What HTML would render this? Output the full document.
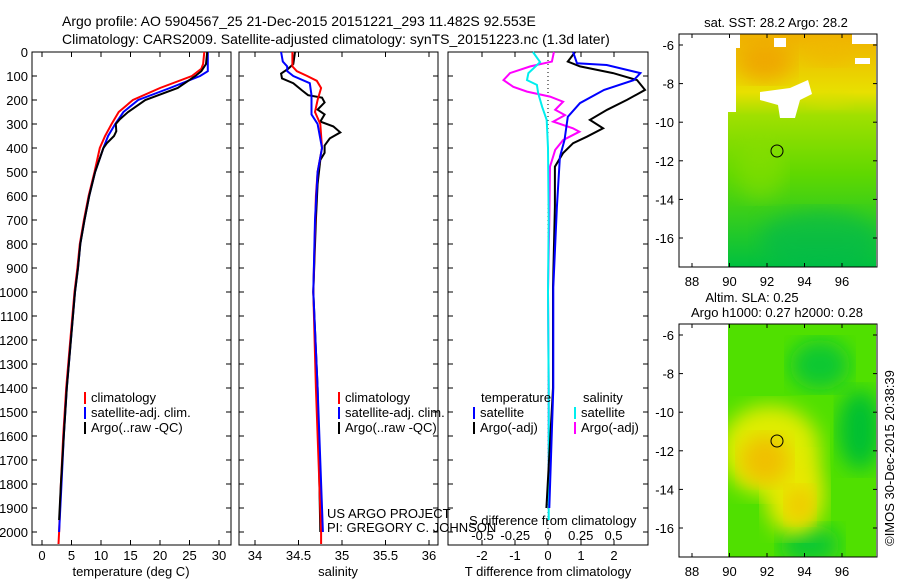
<!DOCTYPE html>
<html><head><meta charset="utf-8"><style>
body{margin:0;background:#fff}
svg text{font-family:"Liberation Sans",sans-serif;font-size:13px;fill:#000}
</style></head><body>
<svg id="c" width="900" height="580" viewBox="0 0 900 580" xmlns="http://www.w3.org/2000/svg">
<defs>
<linearGradient id="sstg" x1="0" y1="0" x2="0" y2="1">
<stop offset="0" stop-color="#f0b000"/><stop offset="0.25" stop-color="#e8e000"/><stop offset="0.35" stop-color="#a0e000"/><stop offset="0.6" stop-color="#60d800"/><stop offset="1" stop-color="#00c040"/></linearGradient>
<filter id="blur"><feGaussianBlur stdDeviation="10"/></filter>
<clipPath id="clip1"><rect x="728" y="34" width="148" height="233"/></clipPath>
<clipPath id="clip2"><rect x="728" y="324" width="148" height="233"/></clipPath>
</defs>
<text x="62" y="26" style="font-size:14px">Argo profile: AO 5904567_25 21-Dec-2015 20151221_293 11.482S 92.553E</text>
<text x="62" y="44" style="font-size:14px">Climatology: CARS2009. Satellite-adjusted climatology: synTS_20151223.nc (1.3d later)</text>

<g>
<g clip-path="url(#clip1)">
<rect x="728" y="34" width="148" height="233" fill="url(#sstg)"/>
<ellipse cx="765" cy="62" rx="28" ry="20" fill="#f0a000" opacity="0.8" filter="url(#blur)"/>
<ellipse cx="830" cy="50" rx="25" ry="15" fill="#f0b800" opacity="0.7" filter="url(#blur)"/>
<ellipse cx="830" cy="100" rx="20" ry="8" fill="#d8e000" opacity="0.6" filter="url(#blur)"/>
<ellipse cx="820" cy="240" rx="60" ry="30" fill="#00b850" opacity="0.6" filter="url(#blur)"/>
<ellipse cx="760" cy="170" rx="25" ry="30" fill="#90e000" opacity="0.5" filter="url(#blur)"/>
<polygon points="728,34 740,34 740,48 736,48 736,112 728,112" fill="#fff"/>
<polygon points="760,92 790,88 808,80 812,94 800,100 795,118 780,118 778,105 760,100" fill="#fff"/>
<polygon points="774,38 786,38 786,47 774,47" fill="#fff"/>
<polygon points="852,34 876,34 876,44 852,44" fill="#fff"/>
<polygon points="855,58 870,58 870,64 855,64" fill="#fff"/>
</g>
<rect x="679" y="34" width="49" height="233" fill="#fff"/>
<rect x="679" y="34" width="198" height="233" fill="none" stroke="#000"/>
<circle cx="777" cy="151" r="6" fill="none" stroke="#000"/>
<text x="776" y="27" text-anchor="middle">sat. SST: 28.2 Argo: 28.2</text>
</g>
<g>
<g clip-path="url(#clip2)">
<rect x="728" y="324" width="148" height="233" fill="#50e000"/>
<ellipse cx="820" cy="365" rx="30" ry="25" fill="#10c830" filter="url(#blur)"/>
<ellipse cx="860" cy="430" rx="22" ry="40" fill="#00c030" filter="url(#blur)"/>
<ellipse cx="810" cy="545" rx="30" ry="20" fill="#10c830" filter="url(#blur)"/>
<ellipse cx="770" cy="450" rx="50" ry="45" fill="#e0ec00" filter="url(#blur)"/>
<ellipse cx="795" cy="495" rx="30" ry="40" fill="#e8e800" filter="url(#blur)"/>
<ellipse cx="765" cy="460" rx="25" ry="25" fill="#f0c000" filter="url(#blur)"/>
<ellipse cx="800" cy="505" rx="14" ry="18" fill="#f0c800" filter="url(#blur)"/>
</g>
<rect x="679" y="324" width="198" height="233" fill="none" stroke="#000"/>
<circle cx="777" cy="441" r="6" fill="none" stroke="#000"/>
<text x="752" y="302" text-anchor="middle">Altim. SLA: 0.25</text>
<text x="777" y="317" text-anchor="middle">Argo h1000: 0.27 h2000: 0.28</text>
</g>
<text transform="translate(894,458) rotate(-90)" text-anchor="middle">©IMOS 30-Dec-2015 20:38:39</text>

<text x="327" y="518">US ARGO PROJECT</text>
<text x="327" y="532">PI: GREGORY C. JOHNSON</text>
<text x="469" y="525">S difference from climatology</text>
</svg>
<script>
const depthClimT=[0,50,70,100,150,200,250,300,350,400,500,600,700,800,900,1000,1200,1400,1600,1800,2000,2050];
const climT=[27.5,27.3,27,25.4,20,15.4,13,11.8,10.7,9.8,8.9,7.9,7.1,6.4,6,5.5,4.8,4.1,3.6,3.2,2.9,2.8];
const depthSatT=[0,80,100,150,200,250,300,350,400,500,600,700,800,900,1000,1200,1400,1600,1800,2000];
const satT=[28.1,28.1,26.8,21.7,16.3,13.8,12.4,11.2,10.4,9,8,7.2,6.5,6.1,5.6,4.9,4.2,3.7,3.3,2.9];
const depthArgoT=[0,50,80,100,150,200,250,280,300,330,350,380,400,500,600,700,800,900,1000,1200,1400,1600,1800,1950];
const argoT=[28,27.8,27,26,23,17.5,14.6,13.2,12.5,12.6,12.2,11,10.4,9,8,7.2,6.5,6.1,5.6,4.9,4.2,3.7,3.2,2.9];

const depthClimS=[0,60,80,100,120,150,200,250,300,400,500,600,1000,1400,2000,2050];
const climS=[34.43,34.43,34.48,34.6,34.71,34.76,34.72,34.69,34.75,34.77,34.72,34.7,34.67,34.7,34.76,34.76];
const depthSatS=[0,40,60,80,100,130,180,260,300,400,500,700,1000,1400,2000];
const satS=[34.3,34.32,34.37,34.37,34.44,34.63,34.65,34.65,34.72,34.77,34.72,34.69,34.67,34.72,34.78];
const depthArgoS=[0,50,70,90,110,130,160,180,190,210,240,260,290,310,335,360,390,420,450,550,700,1000,1400,2000];
const argoS=[34.46,34.44,34.38,34.3,34.31,34.44,34.54,34.61,34.77,34.8,34.72,34.8,34.75,34.9,34.98,34.86,34.8,34.8,34.75,34.72,34.7,34.67,34.72,34.75];

const depthDT1=[0,47,54,88,117,158,213,270,367,437,645,980,1400,1900];
const satDT=[0.76,0.88,1.78,2.8,2.6,1.7,0.97,0.6,0.5,0.36,0.27,0.16,0.16,0.04];
const depthDT2=[0,40,60,88,117,158,199,241,283,318,353,380,422,478,645,980,1400,1900];
const argoDT=[0.82,0.6,0.97,1.97,2.7,2.94,2.4,1.79,1.27,1.67,1.18,0.76,0.45,0.21,0.21,0.15,0.15,-0.05];
const depthDS1=[0,42,88,117,137,172,228,283,400,700,1000,1400,1950];
const satDS=[-0.115,-0.06,-0.15,-0.16,-0.085,-0.075,-0.045,-0.01,0,0.005,0,0.005,0.005];
const depthDS2=[0,40,60,88,117,145,165,186,207,241,263,290,318,332,367,408,478,700,1000,1400,1900];
const argoDS=[0.045,0.03,-0.135,-0.29,-0.34,-0.265,-0.16,0.015,0.115,0.055,0.13,0.04,0.19,0.24,0.115,0.055,0.015,0.01,0.0,0.005,0.005];

const depthTicks=[0,100,200,300,400,500,600,700,800,900,1000,1100,1200,1300,1400,1500,1600,1700,1800,1900,2000];
const tempTicks=[0,5,10,15,20,25,30];
const salTicks=[34,34.5,35,35.5,36];
const dtTicks=[-2,-1,0,1,2];
const dtLabels=['-2','-1','0','1','2'];
const dsTicks=[-0.5,-0.25,0,0.25,0.5];
const dsLabels=['-0.5','-0.25','0','0.25','0.5'];
const latTicks=[-6,-8,-10,-12,-14,-16];
const lonTicks=[88,90,92,94,96];

const NS='http://www.w3.org/2000/svg';
const svg=document.getElementById('c');
const yD=d=>52+d*0.24;
const xT=t=>42+t*5.9;
const xS=s=>255+(s-34)*87;
const xDT=t=>548+t*33;
const xDS=s=>548+s*131;
function mk(tag,attrs){const e=document.createElementNS(NS,tag);for(const k in attrs)e.setAttribute(k,attrs[k]);svg.appendChild(e);return e;}
function txt(x,y,s,anchor){const e=mk('text',{x:x,y:y,'text-anchor':anchor||'start'});e.textContent=s;return e;}
function series(depths,vals,xf,color,name){
  const pts=depths.map((d,i)=>xf(vals[i]).toFixed(1)+','+yD(d).toFixed(1)).join(' ');
  const p=mk('polyline',{points:pts,fill:'none',stroke:color,'stroke-width':2});
  
  
}
const panels=[[32,231,'temperature-panel'],[239,438,'salinity-panel'],[448,648,'difference-panel']];
panels.forEach(([l,r,n])=>{
  const f=mk('rect',{x:l,y:52,width:r-l,height:493,fill:'none',stroke:'#000'});
  
  
  depthTicks.forEach(d=>{mk('line',{x1:l,x2:l+5,y1:yD(d),y2:yD(d),stroke:'#000'});mk('line',{x1:r-5,x2:r,y1:yD(d),y2:yD(d),stroke:'#000'});});
});
depthTicks.forEach(d=>{const t=txt(28,yD(d)+5,String(d),'end');
  
  });
function xticks(ticks,labels,xf){ticks.forEach((v,i)=>{const x=xf(v);
  mk('line',{x1:x,x2:x,y1:540,y2:545,stroke:'#000'});mk('line',{x1:x,x2:x,y1:52,y2:57,stroke:'#000'});
  const t=txt(x,560,labels[i],'middle');
  
  });}
xticks(tempTicks,tempTicks.map(String),xT);
xticks(salTicks,salTicks.map(String),xS);
xticks(dtTicks,dtLabels,xDT);
dsTicks.forEach((v,i)=>{const t=txt(xDS(v),540,dsLabels[i],'middle');
  
  });
let a=txt(131,576,'temperature (deg C)','middle');


a=txt(338,576,'salinity','middle');


a=txt(548,576,'T difference from climatology','middle');


mk('line',{x1:xDT(0),x2:xDT(0),y1:52,y2:545,stroke:'#000','stroke-dasharray':'1,3'});

series(depthClimT,climT,xT,'#f00','temp-climatology-line');
series(depthSatT,satT,xT,'#00f','temp-satellite-line');
series(depthArgoT,argoT,xT,'#000','temp-argo-line');
series(depthArgoS,argoS,xS,'#000','sal-argo-line');
series(depthClimS,climS,xS,'#f00','sal-climatology-line');
series(depthSatS,satS,xS,'#00f','sal-satellite-line');
series(depthDS2,argoDS,xDS,'#f0f','sdiff-argo-line');
series(depthDS1,satDS,xDS,'#0ee','sdiff-satellite-line');
series(depthDT2,argoDT,xDT,'#000','tdiff-argo-line');
series(depthDT1,satDT,xDT,'#00f','tdiff-satellite-line');

function legend(x,y,color,label){mk('rect',{x:x,y:y-10,width:2,height:12,fill:color});
  const t=txt(x+7,y,label);
  
  }
[[84,'#f00','climatology'],[84,'#00f','satellite-adj. clim.'],[84,'#000','Argo(..raw -QC)']].forEach((e,i)=>legend(e[0],402+i*15,e[1],e[2]));
[[338,'#f00','climatology'],[338,'#00f','satellite-adj. clim.'],[338,'#000','Argo(..raw -QC)']].forEach((e,i)=>legend(e[0],402+i*15,e[1],e[2]));
a=txt(481,402,'temperature');


a=txt(583,402,'salinity');


legend(473,417,'#00f','satellite');legend(473,432,'#000','Argo(-adj)');
legend(574,417,'#0ee','satellite');legend(574,432,'#f0f','Argo(-adj)');

function mapAxes(top,name){
  const bx=679,by=top,yLat=v=>top+11+(-6-v)*19.3,xLon=v=>692+(v-88)*18.75;
  latTicks.forEach(v=>{const y=yLat(v);mk('line',{x1:bx,x2:bx+4,y1:y,y2:y,stroke:'#000'});mk('line',{x1:877-4,x2:877,y1:y,y2:y,stroke:'#000'});
    const t=txt(674,y+5,String(v),'end');
    
    });
  lonTicks.forEach(v=>{const x=xLon(v);mk('line',{x1:x,x2:x,y1:by+233-4,y2:by+233,stroke:'#000'});mk('line',{x1:x,x2:x,y1:by,y2:by+4,stroke:'#000'});
    const t=txt(x,by+252,String(v),'middle');
    
    });
}
mapAxes(34,'sst-map');mapAxes(324,'sla-map');
</script>
</body></html>
